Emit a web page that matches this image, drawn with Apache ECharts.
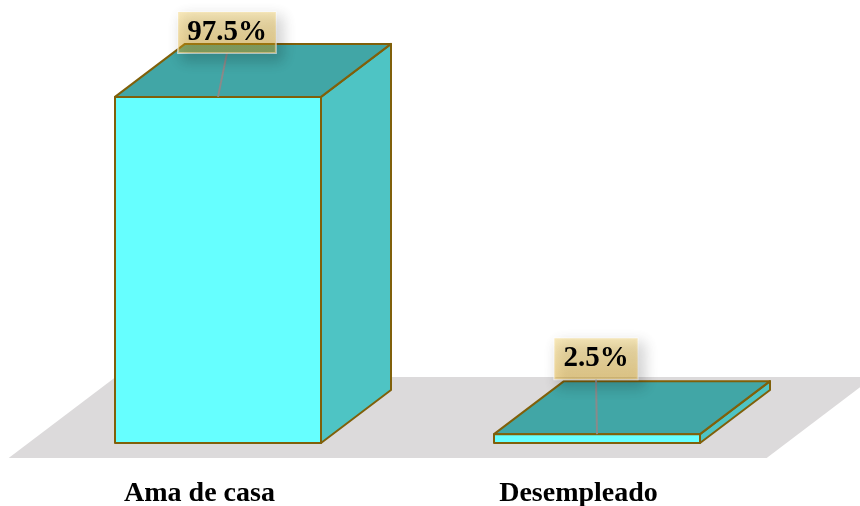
<!DOCTYPE html>
<html>
<head>
<meta charset="utf-8">
<script src="https://cdn.jsdelivr.net/npm/echarts@6/dist/echarts.min.js"></script>
<style>
html,body{margin:0;padding:0;background:#fff;}
#chart{width:860px;height:506px;}
</style>
</head>
<body>
<div id="chart"></div>
<script>
// ---- data ----
const categories = ['Ama de casa', 'Desempleado'];
const values = [97.5, 2.5];
const valueLabels = ['97.5%', '2.5%'];

// ---- layout / style constants ----
const DEPTH_X = 70, DEPTH_Y = 53;      // 3D depth offset in px
const BAR_RATIO = 206 / 379;           // bar width as fraction of band
const LABEL_DX = [9, -1];              // callout box shift from bar centre
const LABEL_GAP = [44, 55];            // callout box bottom above bar top
const EDGE = '#80600a';
const FONT = '"Liberation Serif", "Times New Roman", serif';

const chart = echarts.init(document.getElementById('chart'), null, {renderer: 'canvas'});

function floorItem(params, api) {
  const cs = params.coordSys;
  const yb = cs.y + cs.height;
  const tf = -0.283, tb = 1.245;
  const pts = [
    [cs.x + tf * DEPTH_X, yb - tf * DEPTH_Y],
    [cs.x + cs.width + tf * DEPTH_X, yb - tf * DEPTH_Y],
    [cs.x + cs.width + tb * DEPTH_X, yb - tb * DEPTH_Y],
    [cs.x + tb * DEPTH_X, yb - tb * DEPTH_Y]
  ];
  return {type: 'polygon', shape: {points: pts}, style: {fill: '#dcdadb'}};
}

function barItem(params, api) {
  const x = api.value(0), v = api.value(1);
  const base = api.coord([x, 0]);
  const top = api.coord([x, v]);
  const bw = api.size([1, 0])[0] * BAR_RATIO;
  const x0 = base[0] - bw / 2, x1 = base[0] + bw / 2;
  const yb = base[1], yt = top[1];
  const st = {stroke: EDGE, lineWidth: 2, lineJoin: 'round'};
  return {
    type: 'group',
    children: [
      {type: 'polygon', shape: {points: [[x1, yt], [x1 + DEPTH_X, yt - DEPTH_Y], [x1 + DEPTH_X, yb - DEPTH_Y], [x1, yb]]},
       style: Object.assign({fill: '#4ec4c4'}, st)},
      {type: 'polygon', shape: {points: [[x0, yt], [x0 + DEPTH_X, yt - DEPTH_Y], [x1 + DEPTH_X, yt - DEPTH_Y], [x1, yt]]},
       style: Object.assign({fill: '#41a6a6'}, st)},
      {type: 'rect', shape: {x: x0, y: yt, width: bw, height: yb - yt},
       style: Object.assign({fill: '#66ffff'}, st)}
    ]
  };
}

function labelItem(params, api) {
  const i = params.dataIndex;
  const x = api.value(0), v = api.value(1);
  const top = api.coord([x, v]);
  const cx = top[0] + LABEL_DX[i];
  const by = top[1] - LABEL_GAP[i];
  return {
    type: 'group',
    children: [
      {type: 'line', shape: {x1: cx, y1: by, x2: top[0], y2: top[1]},
       style: {stroke: '#8a8a8a', lineWidth: 2}},
      {type: 'text', x: cx, y: by,
       style: {
         text: valueLabels[i],
         align: 'center', verticalAlign: 'bottom',
         font: 'bold 29px ' + FONT,
         fill: '#000',
         padding: [6, 9, 6, 9],
         backgroundColor: new echarts.graphic.LinearGradient(0, 0, 0, 1, [
           {offset: 0, color: 'rgba(240,190,40,0.30)'},
           {offset: 1, color: 'rgba(230,170,20,0.42)'}
         ]),
         borderColor: 'rgba(255,255,255,0.7)',
         borderWidth: 1,
         shadowBlur: 14,
         shadowColor: 'rgba(0,0,0,0.45)',
         shadowOffsetX: 5,
         shadowOffsetY: 6
       }}
    ]
  };
}

const seriesData = values.map((v, i) => [i, v]);

chart.setOption({
  animation: false,
  grid: {left: 28.5, right: 73.5, top: 88, bottom: 63, containLabel: false, outerBoundsMode: 'none'},
  xAxis: {
    type: 'category',
    data: categories,
    axisLine: {show: false},
    axisTick: {show: false},
    splitLine: {show: false},
    axisLabel: {
      margin: 37,
      color: '#000',
      fontSize: 28,
      fontWeight: 'bold',
      fontFamily: FONT,
      padding: [0, 37, 0, 0]
    }
  },
  yAxis: {type: 'value', min: 0, max: 100, show: false},
  series: [
    {type: 'custom', renderItem: floorItem, data: [[0, 0]], z: 1, silent: true},
    {type: 'custom', renderItem: barItem, data: seriesData, z: 2},
    {type: 'custom', renderItem: labelItem, data: seriesData, z: 3}
  ]
});
</script>
</body>
</html>
